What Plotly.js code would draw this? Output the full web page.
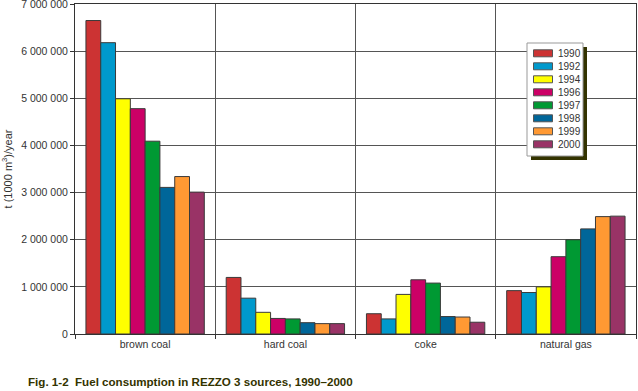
<!DOCTYPE html>
<html>
<head>
<meta charset="utf-8">
<script src="https://cdn.plot.ly/plotly-3.0.1.min.js"></script>
<style>html,body{margin:0;padding:0;background:#fff;}#chart{width:638px;height:391px;}</style>
</head>
<body>
<div id="chart"></div>
<script>
const categories = ["brown coal", "hard coal", "coke", "natural gas"];
const years = ["1990", "1992", "1994", "1996", "1997", "1998", "1999", "2000"];
const colors = ["#CC3333", "#0099CC", "#FFFF00", "#CC0066", "#009933", "#006699", "#FF9933", "#993366"];
const v1990 = [6650000, 1200000, 430000, 920000];
const v1992 = [6180000, 760000, 320000, 880000];
const v1994 = [4990000, 460000, 840000, 1000000];
const v1996 = [4780000, 330000, 1150000, 1640000];
const v1997 = [4090000, 320000, 1080000, 2000000];
const v1998 = [3110000, 240000, 370000, 2230000];
const v1999 = [3340000, 220000, 360000, 2490000];
const v2000 = [3010000, 220000, 250000, 2500000];
const series = [v1990, v1992, v1994, v1996, v1997, v1998, v1999, v2000];
const yTicks = [0, 1000000, 2000000, 3000000, 4000000, 5000000, 6000000, 7000000];

const W = 638, H = 391, L = 75, R = 2, T = 4, B = 57;
const pw = W - L - R, ph = H - T - B;
const px = x => (x - L) / pw;
const py = y => (H - B - y) / ph;

const traces = series.map((vals, i) => ({
  type: "bar",
  name: years[i],
  x: categories,
  y: vals,
  marker: {color: colors[i], line: {color: "#3a3a3a", width: 1}},
  hoverinfo: "none"
}));

const shapes = [];
const annotations = [];
// legend shadow and box
shapes.push({type: "rect", xref: "paper", yref: "paper", x0: px(531), x1: px(587), y0: py(160), y1: py(47), fillcolor: "#333300", line: {width: 0}, layer: "above"});
shapes.push({type: "rect", xref: "paper", yref: "paper", x0: px(527), x1: px(583), y0: py(156), y1: py(43), fillcolor: "#ffffff", line: {color: "#999999", width: 1}, layer: "above"});
years.forEach((yr, i) => {
  const cy = 53.3 + i * 13;
  shapes.push({type: "rect", xref: "paper", yref: "paper", x0: px(533.5), x1: px(552.5), y0: py(cy + 3.5), y1: py(cy - 3.5), fillcolor: colors[i], line: {color: "#555555", width: 1}, layer: "above"});
  annotations.push({xref: "paper", yref: "paper", x: px(556), y: py(cy), text: yr, showarrow: false, xanchor: "left", yanchor: "middle", font: {family: "Liberation Sans, Arial, sans-serif", size: 10, color: "#333333"}});
});
annotations.push({xref: "paper", yref: "paper", x: px(26), y: py(381), text: "Fig. 1-2  Fuel consumption in REZZO 3 sources, 1990\u20132000", showarrow: false, xanchor: "left", yanchor: "middle", font: {family: "Liberation Sans, Arial, sans-serif", size: 11.6, color: "#333300", weight: "bold"}});

const layout = {
  width: W, height: H,
  margin: {l: L, r: R, t: T, b: B, pad: 0},
  paper_bgcolor: "#ffffff", plot_bgcolor: "#ffffff",
  font: {family: "Liberation Sans, Arial, sans-serif", size: 10.5, color: "#333333"},
  separators: ". ",
  showlegend: false,
  barmode: "group",
  bargap: 0.156,
  bargroupgap: 0,
  xaxis: {
    type: "category",
    tickson: "boundaries",
    showgrid: true, gridcolor: "#555555", gridwidth: 1,
    showline: true, linecolor: "#333333", linewidth: 1, mirror: true,
    ticks: "outside", ticklen: 4, tickcolor: "#333333",
    tickfont: {size: 10.5, color: "#333333"},
    fixedrange: true
  },
  yaxis: {
    range: [0, 7000500],
    tickmode: "array", tickvals: yTicks,
    tickformat: ",d",
    ticklabeloverflow: "allow",
    showgrid: true, gridcolor: "#555555", gridwidth: 1,
    showline: true, linecolor: "#333333", linewidth: 1, mirror: true,
    ticks: "outside", ticklen: 4, tickcolor: "#333333",
    tickfont: {size: 10.5, color: "#333333"},
    zeroline: false,
    title: {text: "t (1000 m<sup>3</sup>)/year", font: {size: 11, color: "#333333"}, standoff: 8},
    fixedrange: true
  },
  shapes: shapes,
  annotations: annotations
};

Plotly.newPlot("chart", traces, layout, {displayModeBar: false, staticPlot: true});
</script>
</body>
</html>
